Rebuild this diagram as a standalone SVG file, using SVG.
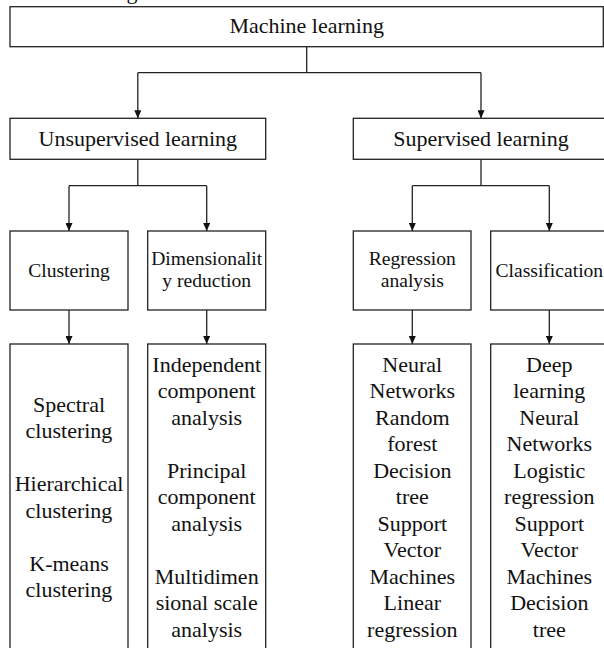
<svg xmlns="http://www.w3.org/2000/svg" width="604" height="648" viewBox="0 0 604 648">
<style>
  rect.box { fill: #ffffff; stroke: #222222; stroke-width: 1.3; }
  text { font-family: "Liberation Serif", "Times New Roman", serif; fill: #111111; text-anchor: middle; }
  .l1 { font-size: 22px; }
  .l3 { font-size: 19.6px; }
  .l4 { font-size: 22px; }
  .conn path { fill: none; stroke: #222222; stroke-width: 1.3; }
</style>
<defs>
  <marker id="arrow" viewBox="0 0 8 7" refX="8" refY="3.5" markerWidth="8" markerHeight="7" markerUnits="userSpaceOnUse" orient="auto">
    <path d="M0,0 L8,3.5 L0,7 z" fill="#111111"/>
  </marker>
</defs>
<rect width="604" height="648" fill="#ffffff"/>
<text class="l1" x="132" y="-1.5">g</text>

<g id="connectors" class="conn">
  <path d="M306.7,46.7 V72.7"/>
  <path d="M137.8,72.7 H481"/>
  <path d="M137.8,72.7 V118.3" marker-end="url(#arrow)"/>
  <path d="M481,72.7 V118.3" marker-end="url(#arrow)"/>
  <path d="M137.8,159.3 V185.7"/>
  <path d="M69,185.7 H206.7"/>
  <path d="M69,185.7 V231" marker-end="url(#arrow)"/>
  <path d="M206.7,185.7 V231" marker-end="url(#arrow)"/>
  <path d="M481,159.3 V185.7"/>
  <path d="M412.3,185.7 H549.3"/>
  <path d="M412.3,185.7 V231" marker-end="url(#arrow)"/>
  <path d="M549.3,185.7 V231" marker-end="url(#arrow)"/>
  <path d="M69,310 V344" marker-end="url(#arrow)"/>
  <path d="M206.7,310 V344" marker-end="url(#arrow)"/>
  <path d="M412.3,310 V344" marker-end="url(#arrow)"/>
  <path d="M549.3,310 V344" marker-end="url(#arrow)"/>
</g>

<g id="machine-learning">
  <rect class="box" x="10" y="6.7" width="593.3" height="40"/>
  <text class="l1" x="306.7" y="33">Machine learning</text>
</g>

<g id="unsupervised-learning">
  <rect class="box" x="10" y="118.3" width="255.7" height="41"/>
  <text class="l1" x="137.8" y="146">Unsupervised learning</text>
</g>

<g id="supervised-learning">
  <rect class="box" x="353.3" y="118.3" width="256" height="41"/>
  <text class="l1" x="481" y="146">Supervised learning</text>
</g>

<g id="clustering">
  <rect class="box" x="10" y="231" width="118" height="79"/>
  <text class="l3" x="69" y="277">Clustering</text>
</g>

<g id="dimensionality-reduction">
  <rect class="box" x="147.7" y="231" width="118" height="79"/>
  <text class="l3" x="206.7" y="265">Dimensionalit</text>
  <text class="l3" x="206.7" y="287.3">y reduction</text>
</g>

<g id="regression-analysis">
  <rect class="box" x="353.3" y="231" width="117.7" height="79"/>
  <text class="l3" x="412.3" y="265">Regression</text>
  <text class="l3" x="412.3" y="287.3">analysis</text>
</g>

<g id="classification">
  <rect class="box" x="490.7" y="231" width="118" height="79"/>
  <text class="l3" x="549.3" y="277">Classification</text>
</g>

<g id="clustering-methods">
  <rect class="box" x="10" y="344" width="118" height="320"/>
  <text class="l4" x="69" y="411.7">Spectral</text>
  <text class="l4" x="69" y="438.2">clustering</text>
  <text class="l4" x="69" y="491.2">Hierarchical</text>
  <text class="l4" x="69" y="517.7">clustering</text>
  <text class="l4" x="69" y="570.7">K-means</text>
  <text class="l4" x="69" y="597.2">clustering</text>
</g>

<g id="dimensionality-methods">
  <rect class="box" x="147.7" y="344" width="118" height="320"/>
  <text class="l4" x="206.7" y="371.7">Independent</text>
  <text class="l4" x="206.7" y="398.2">component</text>
  <text class="l4" x="206.7" y="424.7">analysis</text>
  <text class="l4" x="206.7" y="477.7">Principal</text>
  <text class="l4" x="206.7" y="504.2">component</text>
  <text class="l4" x="206.7" y="530.7">analysis</text>
  <text class="l4" x="206.7" y="583.7">Multidimen</text>
  <text class="l4" x="206.7" y="610.2">sional scale</text>
  <text class="l4" x="206.7" y="636.7">analysis</text>
</g>

<g id="regression-methods">
  <rect class="box" x="353.3" y="344" width="117.7" height="320"/>
  <text class="l4" x="412.3" y="371.7">Neural</text>
  <text class="l4" x="412.3" y="398.2">Networks</text>
  <text class="l4" x="412.3" y="424.7">Random</text>
  <text class="l4" x="412.3" y="451.2">forest</text>
  <text class="l4" x="412.3" y="477.7">Decision</text>
  <text class="l4" x="412.3" y="504.2">tree</text>
  <text class="l4" x="412.3" y="530.7">Support</text>
  <text class="l4" x="412.3" y="557.2">Vector</text>
  <text class="l4" x="412.3" y="583.7">Machines</text>
  <text class="l4" x="412.3" y="610.2">Linear</text>
  <text class="l4" x="412.3" y="636.7">regression</text>
</g>

<g id="classification-methods">
  <rect class="box" x="490.7" y="344" width="118" height="320"/>
  <text class="l4" x="549.3" y="371.7">Deep</text>
  <text class="l4" x="549.3" y="398.2">learning</text>
  <text class="l4" x="549.3" y="424.7">Neural</text>
  <text class="l4" x="549.3" y="451.2">Networks</text>
  <text class="l4" x="549.3" y="477.7">Logistic</text>
  <text class="l4" x="549.3" y="504.2">regression</text>
  <text class="l4" x="549.3" y="530.7">Support</text>
  <text class="l4" x="549.3" y="557.2">Vector</text>
  <text class="l4" x="549.3" y="583.7">Machines</text>
  <text class="l4" x="549.3" y="610.2">Decision</text>
  <text class="l4" x="549.3" y="636.7">tree</text>
</g>
</svg>
